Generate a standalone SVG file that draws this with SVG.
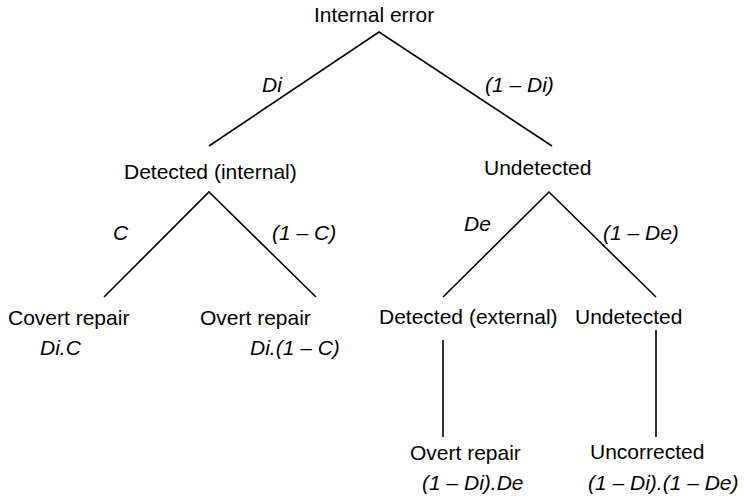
<svg xmlns="http://www.w3.org/2000/svg" width="744" height="500" viewBox="0 0 744 500">
  <style>
    text { font-family: "Liberation Sans", Arial, Helvetica, sans-serif; font-size: 21px; fill: #000; }
    .p { font-style: italic; }
    .edge { stroke: #000; stroke-width: 1.6; fill: none; }
  </style>
  <rect width="744" height="500" fill="#fff"/>

  <g id="connectors">
    <path class="edge" d="M209,146 L379,32 L552,146"/>
    <path class="edge" d="M104,297 L209,192 L316,297"/>
    <path class="edge" d="M443,297 L549,192 L656,297"/>
    <line class="edge" x1="443" y1="340" x2="443" y2="437"/>
    <line class="edge" x1="656" y1="330" x2="656" y2="437"/>
    <text class="p" x="262" y="92">Di</text>
    <text class="p" x="485" y="92">(1 – Di)</text>
    <text class="p" x="113" y="240">C</text>
    <text class="p" x="272" y="240">(1 – C)</text>
    <text class="p" x="464" y="231">De</text>
    <text class="p" x="603" y="240">(1 – De)</text>
  </g>

  <g id="internal-error">
    <text x="314" y="22">Internal error</text>
  </g>
  <g id="detected-internal">
    <text x="124" y="179">Detected (internal)</text>
  </g>
  <g id="undetected-1">
    <text x="484" y="175">Undetected</text>
  </g>
  <g id="covert-repair">
    <text x="8" y="325">Covert repair</text>
    <text class="p" x="40" y="355">Di.C</text>
  </g>
  <g id="overt-repair-internal">
    <text x="200" y="325">Overt repair</text>
    <text class="p" x="250" y="355">Di.(1 – C)</text>
  </g>
  <g id="detected-external">
    <text x="379" y="324">Detected (external)</text>
  </g>
  <g id="undetected-2">
    <text x="575" y="324">Undetected</text>
  </g>
  <g id="overt-repair-external">
    <text x="410" y="460">Overt repair</text>
    <text class="p" x="422" y="490">(1 – Di).De</text>
  </g>
  <g id="uncorrected">
    <text x="590" y="459">Uncorrected</text>
    <text class="p" x="588" y="490">(1 – Di).(1 – De)</text>
  </g>
</svg>
